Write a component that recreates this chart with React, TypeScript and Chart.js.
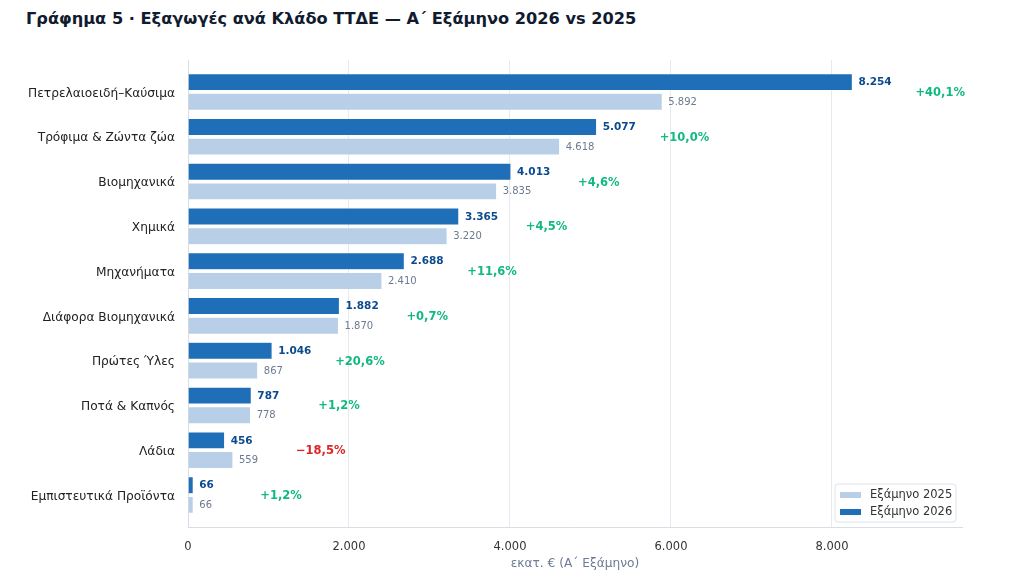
import React, { useEffect, useRef } from 'react';
import Chart from 'chart.js/auto';

// Κλάδοι ΤΤΔΕ, εκατ. €
const categories = [
  'Πετρελαιοειδή–Καύσιμα',
  'Τρόφιμα & Ζώντα ζώα',
  'Βιομηχανικά',
  'Χημικά',
  'Μηχανήματα',
  'Διάφορα Βιομηχανικά',
  'Πρώτες Ύλες',
  'Ποτά & Καπνός',
  'Λάδια',
  'Εμπιστευτικά Προϊόντα',
];
const h1_2026 = [8254, 5077, 4013, 3365, 2688, 1882, 1046, 787, 456, 66];
const h1_2025 = [5892, 4618, 3835, 3220, 2410, 1870, 867, 778, 559, 66];
const changePct = [40.1, 10.0, 4.6, 4.5, 11.6, 0.7, 20.6, 1.2, -18.5, 1.2];
const xTicks = [0, 2000, 4000, 6000, 8000];

const DARK = '#1f6fb8';
const LIGHT = '#b9cfe8';
const FONT = "'DejaVu Sans', sans-serif";

const fmt = (v: number) => String(Math.round(v)).replace(/\B(?=(\d{3})+(?!\d))/g, '.');
const fmtPct = (p: number) =>
  (p >= 0 ? '+' : '\u2212') + Math.abs(p).toFixed(1).replace('.', ',') + '%';

const labelsPlugin = {
  id: 'barLabels',
  afterDatasetsDraw(chart: any) {
    const { ctx, scales } = chart;
    ctx.save();
    ctx.textBaseline = 'middle';
    ctx.textAlign = 'left';
    chart.data.datasets.forEach((ds: any, di: number) => {
      const meta = chart.getDatasetMeta(di);
      meta.data.forEach((bar: any, i: number) => {
        const v = ds.data[i].x;
        if (di === 0) {
          ctx.font = `bold 10.5px ${FONT}`;
          ctx.fillStyle = '#0b4a8e';
        } else {
          ctx.font = `10px ${FONT}`;
          ctx.fillStyle = '#6b7a90';
        }
        ctx.fillText(fmt(v), bar.x + 6, bar.y + 0.5);
      });
    });
    // % change
    ctx.textAlign = 'center';
    ctx.font = `bold 11.5px ${FONT}`;
    categories.forEach((_, i) => {
      const top = Math.max(h1_2026[i], h1_2025[i]);
      const x = scales.x.getPixelForValue(top + 1090);
      const y = scales.y.getPixelForValue(i);
      ctx.fillStyle = changePct[i] >= 0 ? '#10b981' : '#dc2626';
      ctx.fillText(fmtPct(changePct[i]), x, y + 1);
    });
    ctx.restore();
  },
  afterDraw(chart: any) {
    const { ctx, chartArea } = chart;
    const w = 121;
    const h = 38;
    const x = chartArea.right - 6 - w;
    const y = chartArea.bottom - 5 - h;
    ctx.save();
    ctx.beginPath();
    ctx.roundRect(x, y, w, h, 3);
    ctx.fillStyle = 'rgba(255,255,255,0.85)';
    ctx.fill();
    ctx.strokeStyle = '#dde3ea';
    ctx.lineWidth = 1;
    ctx.stroke();
    const items = [
      { label: 'Εξάμηνο 2025', color: LIGHT },
      { label: 'Εξάμηνο 2026', color: DARK },
    ];
    ctx.font = `11.5px ${FONT}`;
    ctx.textBaseline = 'middle';
    ctx.textAlign = 'left';
    items.forEach((it, k) => {
      const cy = y + 11 + k * 17;
      ctx.fillStyle = it.color;
      ctx.fillRect(x + 5, cy - 3, 21, 6);
      ctx.fillStyle = '#333';
      ctx.fillText(it.label, x + 35, cy + 0.5);
    });
    ctx.restore();
  },
};

export default function App() {
  const canvasRef = useRef<HTMLCanvasElement>(null);
  const chartRef = useRef<Chart | null>(null);

  useEffect(() => {
    if (!canvasRef.current) return;
    if (chartRef.current) chartRef.current.destroy();

    const ctx = canvasRef.current.getContext('2d');
    if (!ctx) return;

    chartRef.current = new Chart(ctx, {
      type: 'bar',
      data: {
        datasets: [
          {
            label: 'Εξάμηνο 2026',
            data: h1_2026.map((v, i) => ({ x: v, y: i })),
            backgroundColor: DARK,
            borderColor: 'rgba(255,255,255,0.5)',
            borderWidth: 0.6,
            categoryPercentage: 0.88,
            barPercentage: 0.87,
          },
          {
            label: 'Εξάμηνο 2025',
            data: h1_2025.map((v, i) => ({ x: v, y: i })),
            backgroundColor: LIGHT,
            borderColor: 'rgba(255,255,255,0.5)',
            borderWidth: 0.6,
            categoryPercentage: 0.88,
            barPercentage: 0.87,
          },
        ],
      },
      options: {
        indexAxis: 'y',
        responsive: false,
        animation: false,
        layout: { padding: { top: 60, right: 52, left: 0, bottom: 0 } },
        plugins: {
          legend: { display: false },
          tooltip: { enabled: false },
        },
        scales: {
          x: {
            type: 'linear',
            min: 0,
            max: 9615,
            afterBuildTicks: (scale: any) => {
              scale.ticks = xTicks.map((v) => ({ value: v }));
            },
            afterFit: (scale: any) => {
              scale.height = 51;
            },
            grid: { color: '#e6eaf0', drawTicks: false, lineWidth: 1 },
            border: { display: true, color: '#d9dee6' },
            ticks: {
              padding: 13,
              color: '#333',
              font: { family: FONT, size: 11.5 },
              callback: (v: any) => fmt(Number(v)),
            },
            title: {
              display: true,
              text: 'εκατ. € (Α΄ Εξάμηνο)',
              color: '#6b7b93',
              font: { family: FONT, size: 12.2 },
              padding: { top: 0, bottom: 7 },
            },
          },
          y: {
            type: 'linear',
            reverse: true,
            offset: false,
            min: -0.714,
            max: categories.length - 1 + 0.714,
            afterBuildTicks: (scale: any) => {
              scale.ticks = categories.map((_, i) => ({ value: i }));
            },
            afterFit: (scale: any) => {
              scale.width = 188;
            },
            grid: { display: false, drawTicks: false },
            border: { display: true, color: '#d9dee6' },
            ticks: {
              padding: 13,
              labelOffset: 1.5,
              color: '#222',
              font: { family: FONT, size: 12.2 },
              callback: (v: any) => categories[Number(v)] ?? '',
            },
          },
        },
      },
      plugins: [labelsPlugin],
    } as any);

    return () => {
      if (chartRef.current) {
        chartRef.current.destroy();
        chartRef.current = null;
      }
    };
  }, []);

  return (
    <div
      style={{
        position: 'relative',
        margin: -8,
        width: 1014,
        height: 578,
        background: '#fff',
        overflow: 'hidden',
        fontFamily: FONT,
      }}
    >
      <div
        style={{
          position: 'absolute',
          left: 8,
          top: 0,
          width: 1000,
          height: 2,
          background: '#8db9e2',
        }}
      />
      <div
        style={{
          position: 'absolute',
          left: 26,
          top: 9,
          fontSize: 16.2,
          fontWeight: 'bold',
          color: '#101b30',
          whiteSpace: 'nowrap',
        }}
      >
        Γράφημα 5 · Εξαγωγές ανά Κλάδο ΤΤΔΕ — Α΄ Εξάμηνο 2026 vs 2025
      </div>
      <canvas
        ref={canvasRef}
        width={1014}
        height={578}
        style={{ position: 'absolute', left: 0, top: 0, width: 1014, height: 578 }}
      />
    </div>
  );
}
